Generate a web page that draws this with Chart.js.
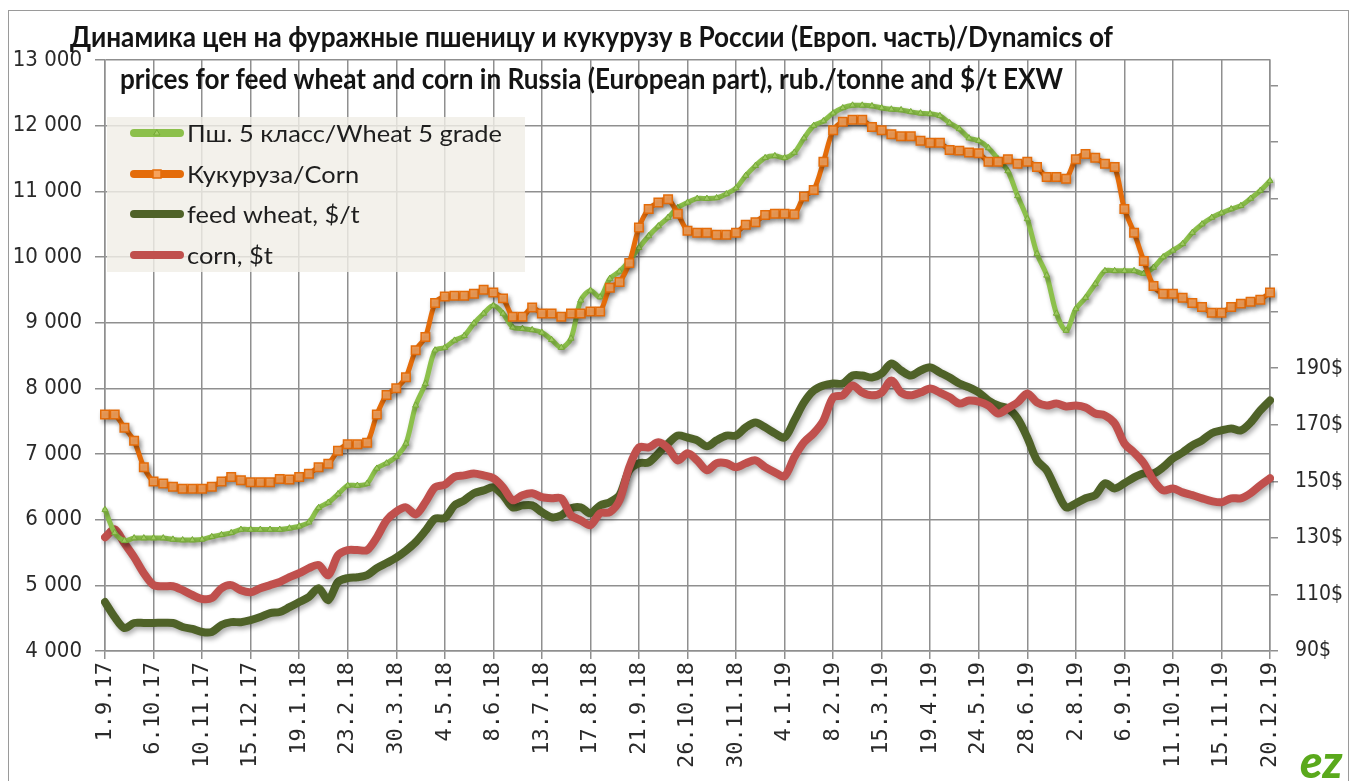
<!DOCTYPE html>
<html>
<head>
<meta charset="utf-8">
<script src="https://cdn.jsdelivr.net/npm/chart.js@4.4.1/dist/chart.umd.min.js"></script>
<style>
  html, body { margin: 0; padding: 0; background: #fff; }
  #wrap { position: relative; width: 1358px; height: 781px; overflow: hidden; }
  #frame { position: absolute; left: 8px; top: 10px; width: 1339px; height: 800px; border: 1px solid #9a9a9a; pointer-events: none; }
  canvas { position: absolute; left: 0; top: 0; }
</style>
</head>
<body>
<div id="wrap">
  <canvas id="chart" width="1358" height="781"></canvas>
  <div id="frame"></div>
</div>
<script>
// weekly categories, 1.9.17 .. 20.12.19
const firstWeek = [2017, 8, 1];
const weekCount = 121;
const categories = [];
for (let i = 0; i < weekCount; i++) {
  const d = new Date(firstWeek[0], firstWeek[1], firstWeek[2] + 7 * i);
  categories.push(d.getDate() + '.' + (d.getMonth() + 1) + '.' + String(d.getFullYear()).slice(2));
}

const titleLines = [
  'Динамика цен на фуражные пшеницу и кукурузу в России (Европ. часть)/Dynamics of',
  'prices for feed wheat and corn in Russia (European part), rub./tonne and $/t EXW'
];
const seriesNames = ['Пш. 5 класс/Wheat 5 grade', 'Кукуруза/Corn', 'feed wheat, $/t', 'corn, $t'];

// rub./t, left axis
const wheatRub = [
  6150, 5800, 5680, 5720, 5720, 5720, 5720, 5700, 5690, 5690, 5700,
  5740, 5770, 5800, 5850, 5850, 5850, 5850, 5850, 5870, 5900,
  5960, 6180, 6260, 6390, 6520, 6520, 6550, 6780, 6860, 6960,
  7160, 7740, 8070, 8580, 8620, 8730, 8800, 8990, 9140, 9260,
  9140, 8930, 8910, 8890, 8850, 8740, 8620, 8760, 9340, 9490,
  9390, 9670, 9780, 9940, 10140, 10320, 10470, 10600, 10750, 10830,
  10890, 10890, 10900, 10960, 11050, 11240, 11390, 11510, 11540, 11510,
  11590, 11810, 12000, 12070, 12190, 12270, 12310, 12310, 12300, 12270,
  12250, 12240, 12210, 12190, 12180, 12150, 12040, 11950, 11810, 11770,
  11660, 11490, 11310, 10930, 10580, 10050, 9720, 9140, 8880, 9210,
  9380, 9590, 9790, 9790, 9790, 9790, 9750, 9840, 10000, 10100,
  10200, 10370, 10500, 10600, 10670, 10730, 10780, 10890, 11010, 11160
];
const cornRub = [
  7600, 7600, 7400, 7200, 6800, 6580, 6550, 6500, 6470, 6470, 6470,
  6500, 6580, 6650, 6600, 6570, 6570, 6570, 6620, 6610, 6650,
  6700, 6800, 6850, 7050, 7150, 7150, 7170, 7600, 7900, 8000,
  8170, 8580, 8780, 9300, 9400, 9410, 9410, 9440, 9500, 9460,
  9370, 9090, 9090, 9230, 9140, 9140, 9090, 9140, 9140, 9170,
  9170, 9530, 9620, 9910, 10450, 10730, 10830, 10880, 10660, 10400,
  10370, 10370, 10340, 10340, 10370, 10490, 10530, 10640, 10660, 10660,
  10650, 10920, 11020, 11450, 11930, 12060, 12090, 12090, 11980, 11930,
  11870, 11840, 11840, 11770, 11740, 11740, 11630, 11620, 11590, 11580,
  11450, 11450, 11490, 11420, 11450, 11370, 11220, 11220, 11190, 11490,
  11570, 11510, 11420, 11370, 10730, 10370, 9940, 9560, 9440, 9440,
  9380, 9300, 9240, 9150, 9150, 9240, 9290, 9320, 9350, 9460
];
// $/t, right axis
const wheatUsd = [
  107.3, 102, 98.1, 99.9, 99.9, 99.9, 100, 99.9, 98.5, 97.8, 96.7,
  96.7, 99.2, 100.2, 100.2, 100.9, 102, 103.4, 103.8, 105.5, 107.3,
  109.1, 112.2, 108, 114.4, 115.8, 116.1, 116.8, 119.3, 121.1, 123,
  125.5, 128.5, 132.5, 136.8, 137, 141.5, 143.3, 145.8, 146.8, 147.9,
  145.1, 140.8, 141.5, 141.5, 139.1, 137.3, 138, 140.5, 140.8, 138.7,
  141.5, 142.6, 145.1, 153.9, 156.4, 156.7, 159.9, 163.4, 166.2, 165.5,
  164.5, 162.4, 164.5, 166.2, 166.2, 169.1, 170.8, 169.1, 167, 165.5,
  171.5, 177.9, 182.1, 183.9, 184.6, 184.6, 187.4, 187.4, 186.7, 188.1,
  191.7, 189.2, 187.4, 189.2, 190.3, 188.5, 186.7, 184.6, 183.2, 181.4,
  178.6, 176.8, 175.8, 172.2, 165.5, 157.4, 153.9, 146.8, 140.8, 142.2,
  144, 145.1, 149.3, 147.5, 149.3, 151.4, 152.8, 152.8, 155, 158.1,
  160.2, 162.7, 164.5, 167, 168, 168.7, 168, 170.8, 175.1, 178.6
];
const cornUsd = [
  130.2, 133, 128.1, 123.2, 117.5, 113.3, 112.9, 112.9, 111.5, 109.8, 108.4,
  108.7, 112.2, 113.3, 111.5, 110.8, 112.2, 113.3, 114.4, 116.1, 117.5,
  119.3, 120.4, 116.8, 123.9, 125.7, 125.7, 125.7, 130.2, 136.2, 139.3,
  140.8, 138.3, 142.6, 147.9, 148.8, 151.6, 152.1, 152.8, 152.1, 151.1,
  147.9, 143.3, 145.1, 145.8, 144.4, 144, 144, 138, 136.2, 134.5,
  138.7, 139.1, 143.3, 155, 162, 162, 163.8, 161.7, 157.4, 159.9,
  157.4, 153.9, 156.4, 156.4, 155, 156.4, 157.4, 155, 153.2, 151.8,
  158.5, 163.8, 167, 171.5, 179.7, 180.4, 183.9, 181.4, 180.4, 181.4,
  185.7, 181.4, 180.4, 181.4, 182.8, 181.4, 179.7, 177.5, 178.6, 178.2,
  176.8, 174, 175.8, 177.9, 181.1, 177.9, 176.8, 177.5, 176.5, 176.8,
  176.1, 174, 173.3, 170.5, 163.4, 160.2, 156.4, 150.4, 146.8, 147.5,
  146.1, 145.1, 144, 143, 142.6, 144, 144, 145.8, 148.6, 151.1
];
const rubTicks = [4000, 5000, 6000, 7000, 8000, 9000, 10000, 11000, 12000, 13000];
const usdTicks = [90, 110, 130, 150, 170, 190, 210, 230, 250, 270, 290];
const usdLabelMax = 190;

const gridColor = '#8f8f8f';
const colors = {
  wheat: '#8cc04b', corn: '#e46c0a', wheatUsd: '#4f6228', cornUsd: '#c0504d'
};
const axisFont = "'DejaVu Sans Condensed', 'DejaVu Sans', sans-serif";

function fmtThousands(v) {
  return String(v).replace(/\B(?=(\d{3})+(?!\d))/g, ' ');
}

/*
  Soft drop shadow under every series, as in the original.
*/
const shadowPlugin = {
  id: 'lineShadow',
  beforeDatasetDraw(chart) {
    const c = chart.ctx;
    c.save();
    c.shadowColor = 'rgba(0,0,0,0.32)';
    c.shadowBlur = 5;
    c.shadowOffsetX = 2;
    c.shadowOffsetY = 3;
  },
  afterDatasetDraw(chart) {
    chart.ctx.restore();
  }
};

// draw text squeezed / stretched to a given width
function fitText(c, text, x, y, width) {
  const w = c.measureText(text).width;
  c.save();
  c.translate(x, y);
  c.scale(width / w, 1);
  c.fillText(text, 0, 0);
  c.restore();
}

/*
  Legend box in the upper left of the plot, drawn over the grid.
*/
const legendPlugin = {
  id: 'boxLegend',
  beforeDatasetsDraw(chart) {
    const c = chart.ctx;
    c.save();
    c.fillStyle = 'rgba(240,238,230,0.82)';
    c.fillRect(107, 117, 418, 155);
    const rows = [133, 174, 214, 255];
    c.font = "24px Lato, 'Open Sans', sans-serif";
    const k = 315 / c.measureText(seriesNames[0]).width;
    chart.data.datasets.forEach((ds, i) => {
      const y = rows[i];
      c.strokeStyle = ds.borderColor;
      c.lineWidth = 8;
      c.lineCap = 'round';
      c.beginPath();
      c.moveTo(134, y);
      c.lineTo(180, y);
      c.stroke();
      if (ds.pointRadius > 0) {
        c.fillStyle = ds.pointBackgroundColor;
        c.strokeStyle = ds.pointBorderColor;
        c.lineWidth = ds.pointBorderWidth;
        c.beginPath();
        if (ds.pointStyle === 'rect') {
          c.rect(157 - 4, y - 4, 8, 8);
        } else {
          c.moveTo(157, y - 3); c.lineTo(160, y + 2); c.lineTo(154, y + 2); c.closePath();
        }
        c.fill();
        c.stroke();
      }
      c.fillStyle = '#1e1e1e';
      c.textBaseline = 'middle';
      c.textAlign = 'left';
      c.save();
      c.translate(187, y + 1);
      c.scale(k, 1);
      c.fillText(ds.label, 0, 0);
      c.restore();
    });
    c.restore();
  }
};

/*
  Two-line title, partly overlapping the top of the plot.
*/
const titlePlugin = {
  id: 'twoLineTitle',
  afterDraw(chart) {
    const c = chart.ctx;
    c.save();
    c.fillStyle = '#141414';
    c.textBaseline = 'alphabetic';
    c.textAlign = 'left';
    c.font = "700 28px Lato, 'Open Sans', sans-serif";
    fitText(c, titleLines[0], 70, 47, 1043);
    fitText(c, titleLines[1], 120, 89, 943);
    // logo mark, bottom right
    c.fillStyle = '#5aa91c';
    c.font = "italic 900 46px Lato, sans-serif";
    c.fillText('ez', 1300, 778);
    c.restore();
  }
};

const ctx = document.getElementById('chart');
new Chart(ctx, {
  type: 'line',
  data: {
    labels: categories,
    datasets: [
      {
        label: seriesNames[0], data: wheatRub, yAxisID: 'y', order: 2,
        borderColor: colors.wheat, borderWidth: 5,
        pointStyle: 'triangle', pointRadius: 3.5,
        pointBackgroundColor: '#a3d064', pointBorderColor: '#76aa38', pointBorderWidth: 1
      },
      {
        label: seriesNames[1], data: cornRub, yAxisID: 'y', order: 1,
        borderColor: colors.corn, borderWidth: 5,
        pointStyle: 'rect', pointRadius: 6,
        pointBackgroundColor: '#f7a35c', pointBorderColor: colors.corn, pointBorderWidth: 1.5
      },
      {
        label: seriesNames[2], data: wheatUsd, yAxisID: 'y1', order: 4,
        borderColor: colors.wheatUsd, borderWidth: 8, pointRadius: 0
      },
      {
        label: seriesNames[3], data: cornUsd, yAxisID: 'y1', order: 3,
        borderColor: colors.cornUsd, borderWidth: 8, pointRadius: 0
      }
    ]
  },
  options: {
    responsive: false,
    animation: false,
    devicePixelRatio: 1,
    layout: { padding: { top: 60, left: 0, right: 0, bottom: 0 } },
    elements: { line: { tension: 0.3, borderCapStyle: 'round', borderJoinStyle: 'round' } },
    plugins: {
      legend: { display: false },
      title: { display: false },
      tooltip: { enabled: false }
    },
    scales: {
      x: {
        type: 'category',
        offset: false,
        grid: {
          color: (c) => (c.index % 5 === 0 ? gridColor : 'rgba(0,0,0,0)'),
          lineWidth: 1.5,
          tickLength: 8
        },
        border: { display: true, color: gridColor, width: 1.5 },
        ticks: {
          autoSkip: false,
          maxRotation: 90,
          minRotation: 90,
          padding: 3,
          color: '#2a2a2a',
          font: { family: "'DejaVu Sans Mono', monospace", size: 22 },
          callback: (v, i) => (i % 5 === 0 ? categories[i] : '')
        },
        afterFit: (s) => { s.height = 130; }
      },
      y: {
        position: 'left',
        min: 4000,
        max: 13000,
        afterBuildTicks: (s) => { s.ticks = rubTicks.map((v) => ({ value: v })); },
        grid: { color: gridColor, lineWidth: 1.5, tickLength: 10 },
        border: { display: true, color: gridColor, width: 1.5 },
        ticks: {
          padding: 13,
          color: '#2a2a2a',
          font: { family: axisFont, size: 22 },
          callback: (v) => fmtThousands(v)
        },
        afterFit: (s) => { s.width = 105; }
      },
      y1: {
        position: 'right',
        min: 90,
        max: 299,
        afterBuildTicks: (s) => { s.ticks = usdTicks.map((v) => ({ value: v })); },
        grid: { drawOnChartArea: false, color: gridColor, lineWidth: 1.5, tickLength: 8 },
        border: { display: true, color: gridColor, width: 1.5 },
        ticks: {
          padding: 17,
          color: '#2a2a2a',
          font: { family: axisFont, size: 21 },
          callback: (v) => (v <= usdLabelMax ? v + '$' : '')
        },
        afterFit: (s) => { s.width = 88; }
      }
    }
  },
  plugins: [shadowPlugin, legendPlugin, titlePlugin]
});
</script>
</body>
</html>
